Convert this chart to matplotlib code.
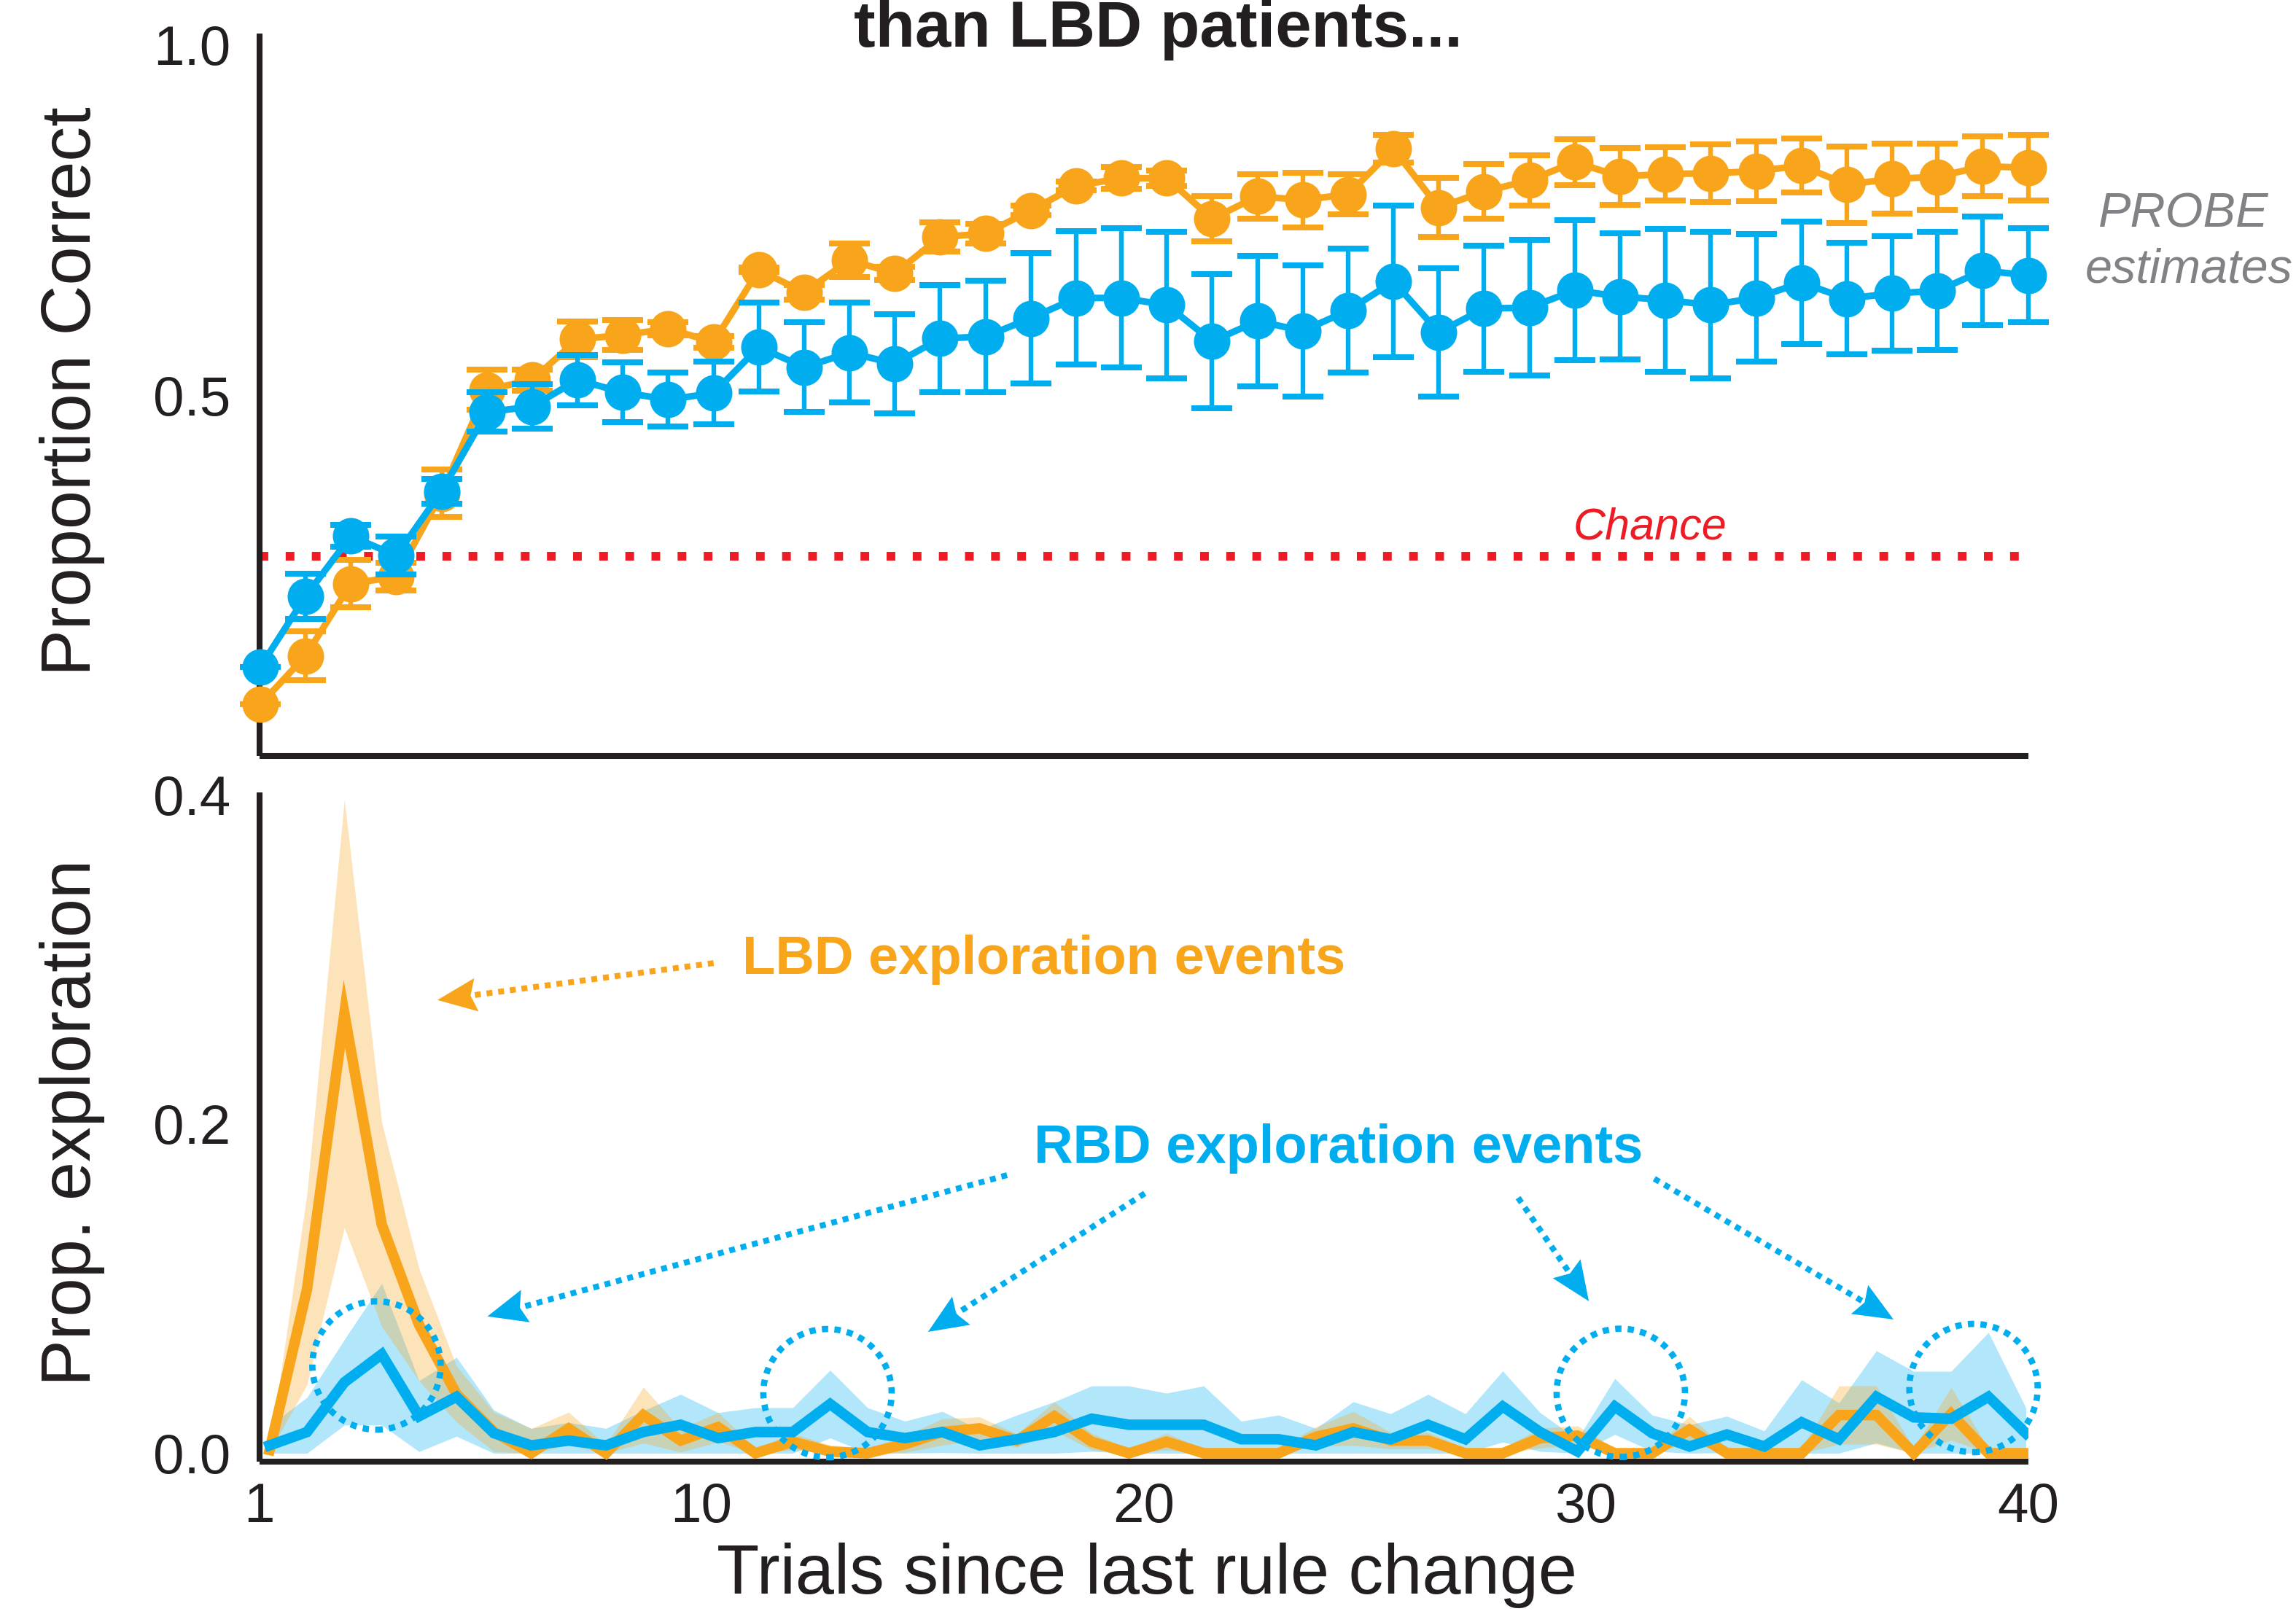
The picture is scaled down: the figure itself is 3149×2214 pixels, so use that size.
import numpy as np
import matplotlib
matplotlib.use("Agg")
import matplotlib.pyplot as plt
from matplotlib import font_manager
from matplotlib.patches import Ellipse, Polygon
from matplotlib.lines import Line2D

# ---------------- data ----------------
trials = np.arange(1, 41)
lbd_correct = [0.0585, 0.128, 0.231, 0.241, 0.360, 0.508, 0.522, 0.580, 0.586, 0.595,
               0.576, 0.679, 0.647, 0.693, 0.674, 0.726, 0.731, 0.764, 0.799, 0.810,
               0.810, 0.752, 0.784, 0.779, 0.787, 0.852, 0.768, 0.791, 0.807, 0.833,
               0.8125, 0.816, 0.817, 0.820, 0.828, 0.801, 0.809, 0.812, 0.827, 0.825]
lbd_correct_err = [0.0, 0.035, 0.034, 0.020, 0.034, 0.0286, 0.015, 0.0255, 0.0213, 0.0098,
                   0.0084, 0.003, 0.010, 0.024, 0.0094, 0.021, 0.014, 0.007, 0.006, 0.0156,
                   0.011, 0.032, 0.032, 0.039, 0.029, 0.020, 0.042, 0.039, 0.036, 0.033,
                   0.041, 0.038, 0.041, 0.043, 0.0387, 0.0547, 0.050, 0.047, 0.043, 0.047]
rbd_correct = [0.112, 0.213, 0.299, 0.271, 0.363, 0.476, 0.484, 0.522, 0.504, 0.494,
               0.503, 0.569, 0.540, 0.561, 0.545, 0.581, 0.584, 0.610, 0.639, 0.639,
               0.629, 0.577, 0.606, 0.592, 0.621, 0.6625, 0.590, 0.624, 0.625, 0.650,
               0.641, 0.636, 0.629, 0.639, 0.661, 0.638, 0.6455, 0.649, 0.678, 0.6715]
rbd_correct_err = [0.0, 0.032, 0.0157, 0.027, 0.0174, 0.028, 0.032, 0.036, 0.0426, 0.039,
                   0.0447, 0.0635, 0.064, 0.0715, 0.071, 0.0769, 0.0795, 0.093, 0.0955, 0.0995,
                   0.1045, 0.0958, 0.0929, 0.0936, 0.088, 0.108, 0.0918, 0.090, 0.097, 0.100,
                   0.090, 0.102, 0.1047, 0.091, 0.0875, 0.0795, 0.082, 0.0845, 0.0774, 0.067]
chance_level = 0.27

explore_bins = np.arange(1, 49)
lbd_explore = [0.002, 0.0996, 0.267, 0.139, 0.078, 0.036, 0.013, 0.0, 0.015, 0.0,
               0.0232, 0.0077, 0.0159, 0.0, 0.007, 0.001, 0.0, 0.0055, 0.0129, 0.0151,
               0.0077, 0.0225, 0.007, 0.0, 0.007, 0.0, 0.0, 0.0, 0.010, 0.0151,
               0.0077, 0.0077, 0.0, 0.0, 0.0092, 0.0107, 0.0, 0.0, 0.0144, 0.0,
               0.0, 0.0, 0.0232, 0.0232, 0.0, 0.024, 0.0, 0.0]
lbd_explore_sem = [0.001, 0.058, 0.130, 0.062, 0.034, 0.017, 0.012, 0.015, 0.010, 0.005,
                   0.017, 0.007, 0.009, 0.003, 0.005, 0.004, 0.003, 0.005, 0.008, 0.007,
                   0.004, 0.0088, 0.005, 0.003, 0.005, 0.003, 0.003, 0.003, 0.006, 0.0103,
                   0.005, 0.005, 0.003, 0.003, 0.006, 0.006, 0.003, 0.003, 0.008, 0.003,
                   0.003, 0.003, 0.0177, 0.0177, 0.003, 0.016, 0.003, 0.003]
rbd_explore = [0.0048, 0.0129, 0.0431, 0.0601, 0.0225, 0.0343, 0.0122, 0.0048, 0.0077, 0.0048,
               0.0129, 0.0173, 0.0092, 0.0129, 0.0129, 0.0299, 0.0129, 0.0092, 0.0129, 0.0048,
               0.0085, 0.0129, 0.021, 0.0173, 0.0173, 0.0173, 0.0085, 0.0085, 0.0048, 0.0129,
               0.0085, 0.0173, 0.0085, 0.0284, 0.0129, 0.0011, 0.0284, 0.0122, 0.0041, 0.0114,
               0.0041, 0.0188, 0.0085, 0.0343, 0.0218, 0.021, 0.0343, 0.0122]
rbd_explore_sem = [0.012, 0.021, 0.026, 0.043, 0.0215, 0.024, 0.014, 0.0103, 0.011, 0.0103,
                   0.013, 0.0185, 0.0155, 0.0148, 0.0148, 0.0206, 0.0148, 0.0103, 0.0125, 0.0096,
                   0.0147, 0.0184, 0.0199, 0.0236, 0.0192, 0.0236, 0.011, 0.0147, 0.0103, 0.0184,
                   0.0155, 0.0185, 0.0155, 0.0216, 0.0118, 0.0074, 0.017, 0.011, 0.0132, 0.0111,
                   0.0095, 0.0258, 0.0221, 0.028, 0.028, 0.0288, 0.0391, 0.0155]

x_tick_labels = ["1", "10", "20", "30", "40"]
top_yticks = [0.5, 1.0]
bottom_yticks = [0.0, 0.2, 0.4]

# highlighted RBD exploration events (bin, level)
circle_bins = [3.86, 15.93, 37.16, 46.6]
circle_levels = [0.0533, 0.0365, 0.0367, 0.0396]

# ---------------- style ----------------
ORANGE = "#F9A51B"
BLUE = "#00AEEF"
RED = "#ED1C24"
GRAY = "#808285"
BLACK = "#231F20"

avail = {f.name for f in font_manager.fontManager.ttflist}
plt.rcParams["font.family"] = ["Liberation Sans", "DejaVu Sans"]
narrow = None
for cand in ["Liberation Sans Narrow", "DejaVu Sans Condensed"]:
    if cand in avail:
        narrow = cand
        break

DPI = 200
W, H = 3149, 2214
fig = plt.figure(figsize=(W / DPI, H / DPI), dpi=DPI)

ax1 = fig.add_axes([0.1129, 0.5318, 0.7704, 0.4476])
ax2 = fig.add_axes([0.1129, 0.0944, 0.7704, 0.4147])

for ax in (ax1, ax2):
    for s in ("top", "right"):
        ax.spines[s].set_visible(False)
    for s in ("left", "bottom"):
        ax.spines[s].set_linewidth(2.9)
        ax.spines[s].set_color(BLACK)
        ax.spines[s].set_capstyle("butt")
    ax.tick_params(length=0, labelsize=27.5, colors=BLACK)
    ax.tick_params(axis="y", pad=14)
    ax.tick_params(axis="x", pad=10)
    ax.set_facecolor("none")

# ---- top panel ----
ax1.set_xlim(0.977, 40.0)
ax1.set_ylim(-0.0146, 1.017)
ax1.set_xticks([])
ax1.set_yticks(top_yticks)
ax1.set_yticklabels(["0.5", "1.0"])

ax1.axhline(chance_level, color=RED, lw=4.3, ls=(0, (1, 2)), dash_capstyle="butt", zorder=1)

for vals, errs, col, z in ((lbd_correct, lbd_correct_err, ORANGE, 3),
                           (rbd_correct, rbd_correct_err, BLUE, 5)):
    eb = ax1.errorbar(trials, vals, yerr=errs, color=col, lw=3.3, marker="o", ms=17,
                      mec=col, mfc=col, elinewidth=2.3, capsize=10, capthick=2.9,
                      zorder=z, clip_on=False)
    for a in eb.lines[1]:
        a.set_clip_on(False)
    for a in eb.lines[2]:
        a.set_clip_on(False)

fig.text(0.7187, 0.666, "Chance", color=RED, fontsize=22,
         style="italic", ha="center", va="baseline")

pfam = [narrow, "Liberation Sans"] if narrow else ["Liberation Sans"]
psize = 27 if narrow else 24
fig.text(0.951, 0.8593, "PROBE", color=GRAY, fontsize=psize, style="italic",
         family=pfam, ha="center", va="baseline")
fig.text(0.9534, 0.8249, "estimates", color=GRAY, fontsize=psize, style="italic",
         family=pfam, ha="center", va="baseline")

# ---- bottom panel ----
ax2.set_xlim(0.721, 48.06)
ax2.set_ylim(-0.0051, 0.4015)
ax2.set_yticks(bottom_yticks)
ax2.set_yticklabels(["0.0", "0.2", "0.4"])
ax2.set_xticks(np.linspace(0.721, 48.06, 5))
ax2.set_xticklabels(x_tick_labels)

lbd = np.array(lbd_explore); lbd_s = np.array(lbd_explore_sem)
rbd = np.array(rbd_explore); rbd_s = np.array(rbd_explore_sem)
ax2.fill_between(explore_bins, np.clip(rbd - rbd_s, 0, None), rbd + rbd_s,
                 color=BLUE, alpha=0.3, lw=0, zorder=1)
ax2.fill_between(explore_bins, np.clip(lbd - lbd_s, 0, None), lbd + lbd_s,
                 color=ORANGE, alpha=0.3, lw=0, zorder=2)
ax2.plot(explore_bins, lbd, color=ORANGE, lw=5.2, zorder=3, solid_joinstyle="miter")
ax2.plot(explore_bins, rbd, color=BLUE, lw=5.2, zorder=4, solid_joinstyle="miter")

# dotted circles (pixel radius 88)
p0 = ax2.transData.transform((0, 0))
px = ax2.transData.transform((1, 0))[0] - p0[0]
py = ax2.transData.transform((0, 1))[1] - p0[1]
r_px = 88
for cx, cy in zip(circle_bins, circle_levels):
    ax2.add_patch(Ellipse((cx, cy), 2 * r_px / px, 2 * r_px / py, fill=False,
                          edgecolor=BLUE, lw=3.1, ls=(0, (1, 1)), zorder=6, clip_on=False))

# ---- annotation text / arrows ----
def dotted_arrow(tail, tip, color):
    t = np.array([tail[0] * W, tail[1] * H])
    p = np.array([tip[0] * W, tip[1] * H])
    d = p - t
    u = d / np.hypot(*d)
    n = np.array([-u[1], u[0]])
    head_len, half_w, notch = 54.0, 23.0, 8.0
    base = p - u * head_len
    end = base + u * notch
    fig.add_artist(Line2D([t[0] / W, end[0] / W], [t[1] / H, end[1] / H],
                          transform=fig.transFigure, color=color, lw=2.9,
                          ls=(0, (1, 1)), dash_capstyle="butt"))
    pts = np.array([p, base + n * half_w, base + u * notch, base - n * half_w])
    pts = pts / np.array([W, H])
    fig.add_artist(Polygon(pts, closed=True, transform=fig.transFigure,
                           facecolor=color, edgecolor="none"))

fig.text(0.3233, 0.3966, "LBD exploration events", color=ORANGE, fontsize=26.7,
         fontweight="bold", ha="left", va="baseline")
dotted_arrow((0.3108, 0.4033), (0.1905, 0.3804), ORANGE)

fig.text(0.4503, 0.2795, "RBD exploration events", color=BLUE, fontsize=26.7,
         fontweight="bold", ha="left", va="baseline")
dotted_arrow((0.4386, 0.2719), (0.2123, 0.1844), BLUE)
dotted_arrow((0.4986, 0.2606), (0.4042, 0.1748), BLUE)
dotted_arrow((0.6612, 0.2579), (0.6920, 0.1938), BLUE)
dotted_arrow((0.7205, 0.2697), (0.8247, 0.1825), BLUE)

# ---- axis labels and title ----
fig.text(0.0395, 0.7577, "Proportion Correct", rotation=90, rotation_mode="anchor",
         ha="center", va="baseline", fontsize=34.4, color=BLACK)
fig.text(0.0395, 0.3045, "Prop. exploration", rotation=90, rotation_mode="anchor",
         ha="center", va="baseline", fontsize=34.4, color=BLACK)
fig.text(0.4994, 0.0125, "Trials since last rule change", ha="center", va="baseline",
         fontsize=34.4, color=BLACK)
fig.text(0.5045, 0.9711, "than LBD patients...", ha="center", va="baseline",
         fontsize=32, fontweight="bold", color=BLACK)

fig.savefig("out.png", dpi=DPI)
